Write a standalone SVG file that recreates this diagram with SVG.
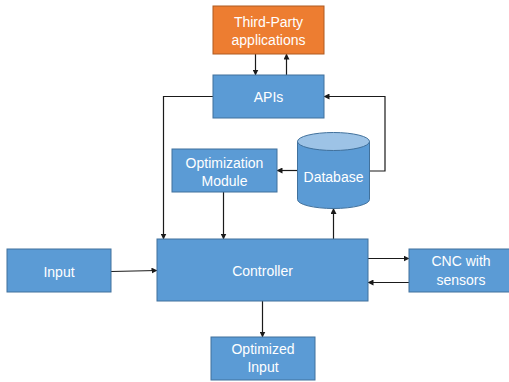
<svg xmlns="http://www.w3.org/2000/svg" width="509" height="382" viewBox="0 0 509 382">
<defs>
<marker id="ah" markerWidth="6" markerHeight="6" refX="5.5" refY="3" orient="auto" markerUnits="userSpaceOnUse">
<path d="M0,0 L6,3 L0,6 Z" fill="#1a1a1a"/>
</marker>
<style>
.box{fill:#5B9BD5;stroke:#41719C;stroke-width:1}
.org{fill:#ED7D31;stroke:#AE5A21;stroke-width:1}
.t{font-family:"Liberation Sans",Arial,sans-serif;font-size:14px;fill:#ffffff;text-anchor:middle}
.c{fill:none;stroke:#1a1a1a;stroke-width:1.2;marker-end:url(#ah)}
.l{fill:none;stroke:#333333;stroke-width:1.2}
</style>
</defs>
<rect width="509" height="382" fill="#ffffff"/>
<g id="connectors">
<line class="c" x1="255.5" y1="54" x2="255.5" y2="75"/>
<line class="c" x1="286.5" y1="75" x2="286.5" y2="54"/>
<polyline class="c" points="213,96.5 163.5,96.5 163.5,239"/>
<polyline class="c" points="369,171 385,171 385,96.5 324,96.5"/>
<line class="c" x1="297" y1="170.5" x2="277" y2="170.5"/>
<line class="c" x1="223.5" y1="192" x2="223.5" y2="239"/>
<line class="c" x1="333.5" y1="239" x2="333.5" y2="208.5"/>
<line class="c" x1="111" y1="271.5" x2="157" y2="270.5"/>
<line class="c" x1="368" y1="258.5" x2="409" y2="258.5"/>
<line class="c" x1="409" y1="282.5" x2="368" y2="282.5"/>
<line class="c" x1="262.5" y1="301" x2="262.5" y2="337"/>
</g>
<g id="third-party">
<rect class="org" x="213" y="6" width="111" height="48"/>
<text class="t" x="268.5" y="27">Third-Party</text>
<text class="t" x="268.5" y="45">applications</text>
</g>
<g id="apis">
<rect class="box" x="213" y="75" width="111" height="43"/>
<text class="t" x="268.5" y="102">APIs</text>
</g>
<g id="optimization-module">
<rect class="box" x="172" y="149" width="105" height="43"/>
<text class="t" x="224.5" y="168">Optimization</text>
<text class="t" x="224.5" y="186">Module</text>
</g>
<g id="database">
<path class="box" d="M297.5,141.5 L297.5,199.5 A36,9 0 0 0 369.5,199.5 L369.5,141.5 Z"/>
<ellipse cx="333.5" cy="141.5" rx="36" ry="9" fill="#9DC3E6" stroke="#41719C" stroke-width="1"/>
<text class="t" x="333.5" y="182">Database</text>
</g>
<g id="input">
<rect class="box" x="7" y="249" width="104" height="43"/>
<text class="t" x="59" y="277">Input</text>
</g>
<g id="controller">
<rect class="box" x="157" y="239" width="211" height="62"/>
<text class="t" x="262.5" y="276">Controller</text>
</g>
<g id="cnc">
<rect class="box" x="409" y="249" width="101" height="43"/>
<text class="t" x="461" y="266">CNC with</text>
<text class="t" x="461" y="285">sensors</text>
</g>
<g id="optimized-input">
<rect class="box" x="211" y="337" width="104" height="43"/>
<text class="t" x="263" y="354">Optimized</text>
<text class="t" x="263" y="372">Input</text>
</g>
</svg>
